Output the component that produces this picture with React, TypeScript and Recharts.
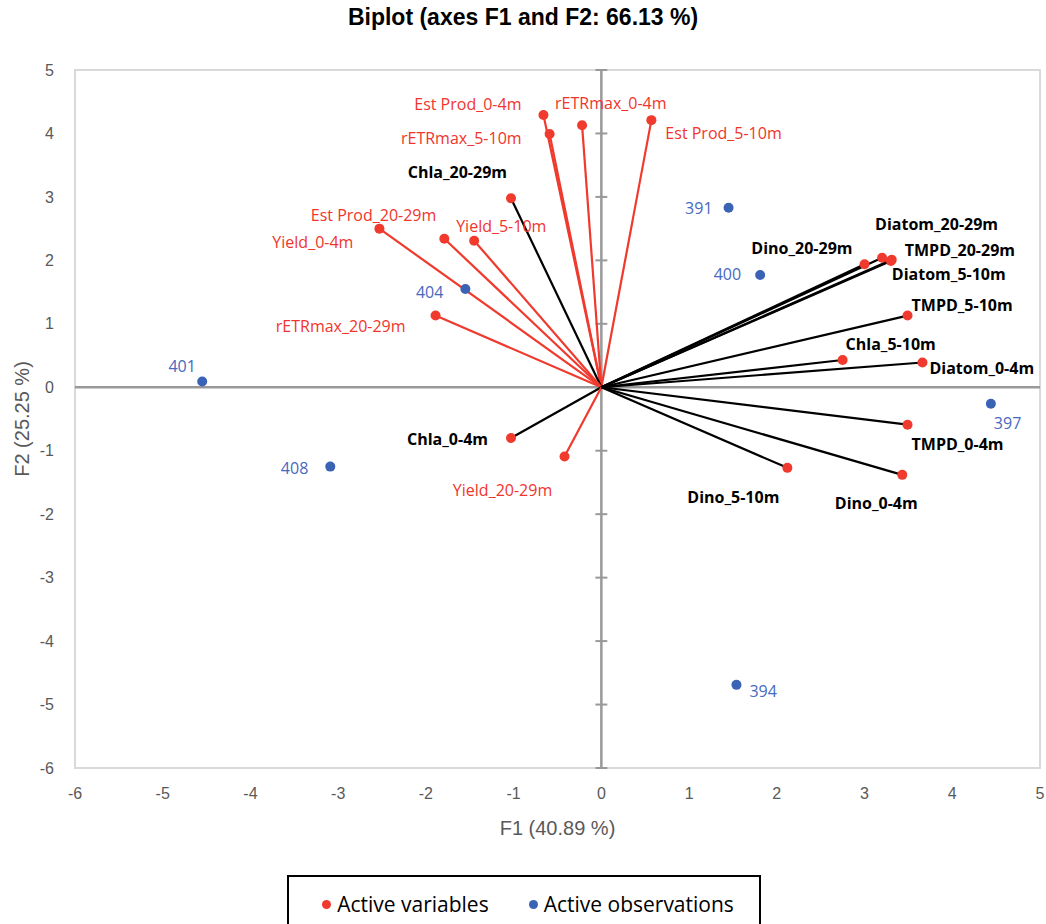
import React from "react";
import {
  ScatterChart,
  Scatter,
  XAxis,
  YAxis,
  ReferenceLine,
  ReferenceArea,
} from "recharts";

// Active variables (F1, F2 coordinates)
const variableNames = [
  "Est Prod_0-4m",
  "rETRmax_5-10m",
  "rETRmax_0-4m",
  "Est Prod_5-10m",
  "Chla_20-29m",
  "Yield_0-4m",
  "Est Prod_20-29m",
  "Yield_5-10m",
  "rETRmax_20-29m",
  "Chla_0-4m",
  "Yield_20-29m",
  "Dino_20-29m",
  "Diatom_20-29m",
  "TMPD_20-29m",
  "Diatom_5-10m",
  "TMPD_5-10m",
  "Chla_5-10m",
  "Diatom_0-4m",
  "TMPD_0-4m",
  "Dino_5-10m",
  "Dino_0-4m",
];
const variableF1 = [
  -0.66, -0.59, -0.22, 0.57, -1.03, -2.53, -1.79, -1.45, -1.89, -1.03, -0.42,
  3.0, 3.2, 3.31, 3.3, 3.49, 2.75, 3.66, 3.49, 2.12, 3.43,
];
const variableF2 = [
  4.29, 3.99, 4.13, 4.21, 2.98, 2.5, 2.34, 2.31, 1.13, -0.8, -1.09, 1.94, 2.04,
  2.01, 1.99, 1.13, 0.43, 0.39, -0.59, -1.27, -1.38,
];

// Active observations
const observationNames = ["391", "400", "404", "401", "408", "397", "394"];
const observationF1 = [1.45, 1.81, -1.55, -4.55, -3.09, 4.44, 1.54];
const observationF2 = [2.83, 1.77, 1.55, 0.09, -1.25, -0.26, -4.69];

const axisTicks = [-6, -5, -4, -3, -2, -1, 0, 1, 2, 3, 4, 5];

const RED = "#ef3a2d";
const RED_TEXT = "#f0352c";
const BLUE = "#3a63b6";
const BLUE_TEXT = "#4769c0";
const LABEL_FONT = "'Open Sans', sans-serif";
const AXIS_FONT = "'Liberation Sans', Arial, sans-serif";

// label placement next to each marker: [anchor, dx, dy]
const labelPlace: Record<string, [string, number, number]> = {
  "Est Prod_0-4m": ["end", -22, -11],
  "rETRmax_0-4m": ["start", -27, -22],
  "rETRmax_5-10m": ["end", -28, 4],
  "Est Prod_5-10m": ["start", 14, 13],
  "Chla_20-29m": ["end", -4, -26],
  "Yield_0-4m": ["end", -26, 13],
  "Est Prod_20-29m": ["end", -8, -24],
  "Yield_5-10m": ["start", -18, -15],
  "rETRmax_20-29m": ["end", -30, 10],
  "Chla_0-4m": ["end", -23, 1],
  "Yield_20-29m": ["middle", -62, 34],
  "Dino_20-29m": ["end", -12, -16],
  "Diatom_20-29m": ["start", -7, -34],
  "TMPD_20-29m": ["start", 13, -10],
  "Diatom_5-10m": ["start", 1, 13],
  "TMPD_5-10m": ["start", 4, -11],
  "Chla_5-10m": ["start", 3, -16],
  "Diatom_0-4m": ["start", 7, 5],
  "TMPD_0-4m": ["start", 4, 19],
  "Dino_5-10m": ["end", -8, 29],
  "Dino_0-4m": ["middle", -26, 28],
  "391": ["end", -16, 0],
  "400": ["end", -19, -1],
  "404": ["end", -22, 3],
  "401": ["middle", -20, -16],
  "408": ["end", -22, 1],
  "397": ["start", 3, 19],
  "394": ["start", 13, 6],
};

const isPhyto = (name: string) => /^(Chla|Diatom|Dino|TMPD)/.test(name);

const variables = variableNames.map((name, i) => ({
  name,
  x: variableF1[i],
  y: variableF2[i],
}));
const observations = observationNames.map((name, i) => ({
  name,
  x: observationF1[i],
  y: observationF2[i],
}));

// small cross ticks on the vertical zero axis (about 6px each side)
const TICK_HALF = 0.068;

function makeShape(fill: string, textColor: (n: string) => string, bold: (n: string) => boolean) {
  return (props: any) => {
    const { cx, cy, payload } = props;
    if (cx == null || cy == null) return <g />;
    const place = labelPlace[payload.name] || ["start", 8, 0];
    return (
      <g>
        <circle cx={cx} cy={cy} r={5} fill={fill} />
        <text
          x={cx + place[1]}
          y={cy + place[2]}
          textAnchor={place[0] as any}
          dominantBaseline="central"
          fontFamily={LABEL_FONT}
          fontSize={16}
          fontWeight={bold(payload.name) ? 700 : 400}
          fill={textColor(payload.name)}
        >
          {payload.name}
        </text>
      </g>
    );
  };
}

const noShape = () => <g />;

function LegendItem({ color, text }: { color: string; text: string }) {
  return (
    <span style={{ display: "flex", alignItems: "center" }}>
      <span
        style={{
          display: "inline-block",
          width: 9,
          height: 9,
          borderRadius: "50%",
          background: color,
          marginRight: 6,
        }}
      />
      {text}
    </span>
  );
}

export default function App() {
  return (
    <div
      style={{
        position: "absolute",
        left: 0,
        top: 0,
        width: 1046,
        height: 924,
        background: "#fff",
        overflow: "hidden",
      }}
    >
      <div
        style={{
          position: "absolute",
          left: 0,
          top: 4,
          width: 1046,
          textAlign: "center",
          fontFamily: AXIS_FONT,
          fontWeight: 700,
          fontSize: 23,
          color: "#000",
        }}
      >
        Biplot (axes F1 and F2: 66.13 %)
      </div>
      <ScatterChart
        width={1046}
        height={924}
        margin={{ top: 70, right: 6, bottom: 86, left: 0 }}
      >
        <XAxis
          type="number"
          dataKey="x"
          domain={[-6, 5]}
          ticks={axisTicks}
          allowDataOverflow
          axisLine={false}
          tickLine={false}
          tickMargin={14}
          height={70}
          tick={{ fontSize: 16, fill: "#595959", fontFamily: AXIS_FONT }}
          label={{
            value: "F1 (40.89 %)",
            position: "insideBottom",
            offset: 3,
            style: { fontSize: 20, fill: "#595959", fontFamily: AXIS_FONT },
          }}
        />
        <YAxis
          type="number"
          dataKey="y"
          domain={[-6, 5]}
          ticks={axisTicks}
          allowDataOverflow
          axisLine={false}
          tickLine={false}
          tickMargin={15}
          width={75}
          tick={{ fontSize: 16, fill: "#595959", fontFamily: AXIS_FONT }}
          label={{
            value: "F2 (25.25 %)",
            angle: -90,
            position: "insideLeft",
            offset: 22,
            style: {
              fontSize: 20,
              fill: "#595959",
              fontFamily: AXIS_FONT,
              textAnchor: "middle",
            },
          }}
        />
        <ReferenceArea
          x1={-6}
          x2={5}
          y1={-6}
          y2={5}
          fill="none"
          fillOpacity={0}
          stroke="#d9d9d9"
          strokeWidth={2}
        />
        <ReferenceLine y={0} stroke="#999" strokeWidth={2.5} />
        <ReferenceLine x={0} stroke="#999" strokeWidth={2.5} />
        {axisTicks.map((t) => (
          <ReferenceLine
            key={"tk" + t}
            segment={[
              { x: -TICK_HALF, y: t },
              { x: TICK_HALF, y: t },
            ]}
            stroke="#999"
            strokeWidth={2}
          />
        ))}
        {variables.map((v) => (
          <Scatter
            key={"vec" + v.name}
            data={[
              { x: 0, y: 0 },
              { x: v.x, y: v.y },
            ]}
            line={{ stroke: isPhyto(v.name) ? "#000" : RED, strokeWidth: 2.2 }}
            shape={noShape}
            isAnimationActive={false}
          />
        ))}
        <Scatter
          name="Active variables"
          data={variables}
          fill={RED}
          shape={makeShape(RED, (n) => (isPhyto(n) ? "#000" : RED_TEXT), isPhyto)}
          isAnimationActive={false}
        />
        <Scatter
          name="Active observations"
          data={observations}
          fill={BLUE}
          shape={makeShape(BLUE, () => BLUE_TEXT, () => false)}
          isAnimationActive={false}
        />
      </ScatterChart>
      <div
        style={{
          position: "absolute",
          left: 287,
          top: 875,
          width: 462,
          height: 70,
          border: "2px solid #000",
          background: "#fff",
          display: "flex",
          alignItems: "flex-start",
          justifyContent: "center",
          gap: 40,
          paddingTop: 13,
          paddingLeft: 8,
          boxSizing: "content-box",
          lineHeight: "28px",
          fontFamily: LABEL_FONT,
          fontSize: 21,
          color: "#000",
        }}
      >
        <LegendItem color={RED} text="Active variables" />
        <LegendItem color={BLUE} text="Active observations" />
      </div>
    </div>
  );
}
